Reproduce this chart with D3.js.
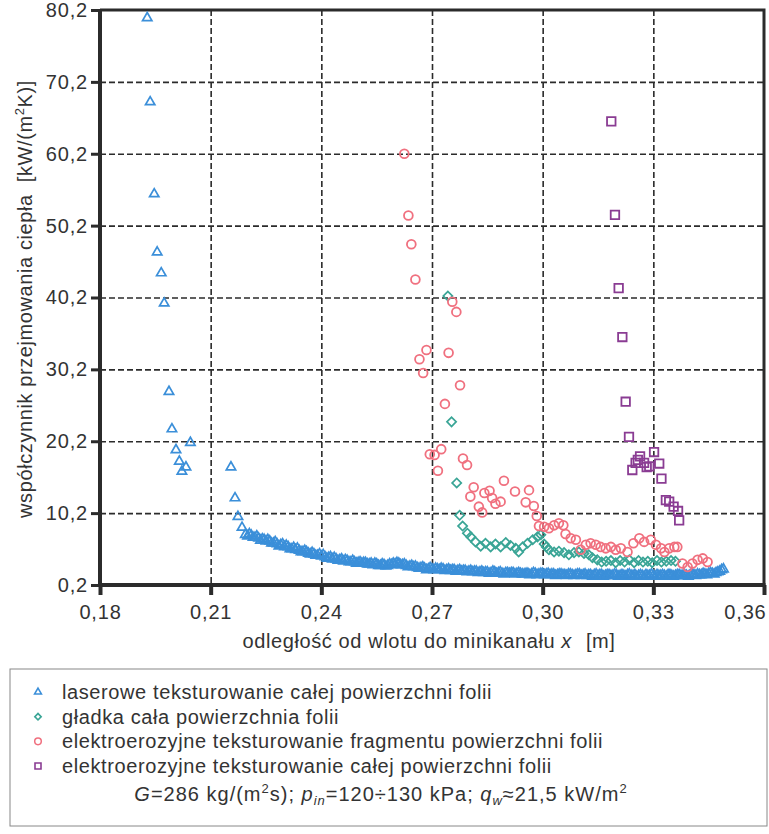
<!DOCTYPE html>
<html>
<head>
<meta charset="utf-8">
<script src="https://cdn.jsdelivr.net/npm/d3@7"></script>
<style>
  body { margin: 0; background: #fff; }
  svg { font-family: "Liberation Sans", Arial, sans-serif; }
  .grid line { stroke: #2b2b2b; stroke-width: 1.6; stroke-dasharray: 6 3; }
  .axis text { font-size: 20px; fill: #333; letter-spacing: 0.8px; }
  .axis line { stroke: #2b2b2b; }
  .lbl { font-size: 20px; fill: #333; letter-spacing: 0.6px; }
</style>
</head>
<body>
<svg id="chart" width="769" height="834"></svg>
<script>
const xTicks = [0.18, 0.21, 0.24, 0.27, 0.30, 0.33, 0.36];
const yTicks = [0.2, 10.2, 20.2, 30.2, 40.2, 50.2, 60.2, 70.2, 80.2];

const seriesNames = [
  "laserowe teksturowanie całej powierzchni folii",
  "gładka cała powierzchnia folii",
  "elektroerozyjne teksturowanie fragmentu powierzchni folii",
  "elektroerozyjne teksturowanie całej powierzchni folii"
];

// [x, y]
const laserPoints = [
  [0.1928, 79.1], [0.1936, 67.4], [0.1947, 54.6], [0.1955, 46.5], [0.1966, 43.6],
  [0.1974, 39.4], [0.1987, 27.1], [0.1995, 21.9], [0.2006, 19.0], [0.2015, 17.4],
  [0.2022, 16.0], [0.2033, 16.6], [0.2045, 20.0], [0.2155, 16.6], [0.2166, 12.3],
  [0.2174, 9.7], [0.2185, 8.2], [0.2194, 7.2],
  [0.220, 7.0], [0.221, 7.1], [0.222, 6.8], [0.223, 6.7], [0.224, 6.6], [0.225, 6.3],
  [0.226, 6.3], [0.227, 6.0], [0.228, 5.9], [0.229, 5.8], [0.230, 5.5], [0.231, 5.5],
  [0.232, 5.2], [0.233, 5.1], [0.234, 5.0], [0.235, 4.8], [0.236, 4.8], [0.237, 4.5],
  [0.238, 4.5], [0.239, 4.3], [0.240, 4.2], [0.241, 4.1], [0.242, 4.0], [0.243, 3.8],
  [0.244, 3.8], [0.245, 3.7], [0.246, 3.5], [0.247, 3.6], [0.248, 3.4], [0.249, 3.4],
  [0.250, 3.3], [0.251, 3.2], [0.252, 3.3], [0.253, 3.1], [0.254, 3.0], [0.255, 3.1],
  [0.256, 2.9], [0.257, 3.0], [0.258, 2.9], [0.259, 3.0], [0.260, 3.1], [0.261, 3.2],
  [0.262, 3.0], [0.263, 2.9], [0.264, 2.8], [0.265, 2.7], [0.266, 2.6], [0.267, 2.6],
  [0.268, 2.5], [0.269, 2.4], [0.270, 2.4], [0.271, 2.5], [0.272, 2.3], [0.273, 2.4],
  [0.274, 2.3], [0.275, 2.2], [0.276, 2.3], [0.277, 2.2], [0.278, 2.1], [0.279, 2.2],
  [0.280, 2.1], [0.281, 2.0], [0.282, 2.1], [0.283, 2.0], [0.284, 1.9], [0.285, 2.0],
  [0.286, 1.9], [0.287, 2.0], [0.288, 1.9], [0.289, 1.8], [0.290, 1.9], [0.291, 1.8],
  [0.292, 1.9], [0.293, 1.8], [0.294, 1.8], [0.295, 1.7], [0.296, 1.8], [0.297, 1.7],
  [0.298, 1.8], [0.299, 1.7], [0.300, 1.8], [0.301, 1.7], [0.302, 1.6], [0.303, 1.7],
  [0.304, 1.6], [0.305, 1.7], [0.306, 1.6], [0.307, 1.7], [0.308, 1.6], [0.309, 1.6],
  [0.310, 1.7], [0.311, 1.6], [0.312, 1.5], [0.313, 1.6], [0.314, 1.6], [0.315, 1.5],
  [0.316, 1.6], [0.317, 1.5], [0.318, 1.6], [0.319, 1.5], [0.320, 1.6], [0.321, 1.5],
  [0.322, 1.5], [0.323, 1.6], [0.324, 1.5], [0.325, 1.6], [0.326, 1.5], [0.327, 1.5],
  [0.328, 1.6], [0.329, 1.5], [0.330, 1.5], [0.331, 1.6], [0.332, 1.5], [0.333, 1.5],
  [0.334, 1.6], [0.335, 1.5], [0.336, 1.5], [0.337, 1.6], [0.338, 1.5], [0.339, 1.5],
  [0.340, 1.6], [0.341, 1.6], [0.342, 1.7], [0.343, 1.6], [0.344, 1.7], [0.345, 1.8],
  [0.346, 1.8], [0.347, 1.9], [0.348, 2.1], [0.349, 2.4],
  [0.2205, 7.3], [0.2215, 6.8], [0.2225, 7.0], [0.2235, 6.4], [0.2245, 6.5], [0.2255, 6.5],
  [0.2265, 6.0], [0.2275, 6.2], [0.2285, 5.6], [0.2295, 5.9], [0.2305, 5.7], [0.2315, 5.2],
  [0.2325, 5.4], [0.2335, 5.3], [0.2345, 4.8], [0.2355, 5.0], [0.2365, 4.6], [0.2375, 4.7],
  [0.2385, 4.3], [0.2395, 4.5], [0.2405, 4.4], [0.2415, 3.9], [0.2425, 4.1], [0.2435, 4.0],
  [0.2445, 3.6], [0.2455, 3.8], [0.2465, 3.7], [0.2475, 3.4], [0.2485, 3.6], [0.2495, 3.2],
  [0.2505, 3.4], [0.2515, 3.3], [0.2525, 3.1], [0.2535, 3.2], [0.2545, 3.2], [0.2555, 2.9],
  [0.2565, 3.1], [0.2575, 2.8], [0.2585, 3.1], [0.2595, 3.2], [0.2605, 3.3], [0.2615, 3.0],
  [0.2625, 3.1], [0.2635, 2.7], [0.2645, 2.9], [0.2655, 2.8], [0.2665, 2.5], [0.2675, 2.7],
  [0.2685, 2.3], [0.2695, 2.6], [0.2705, 2.3], [0.2715, 2.4], [0.2725, 2.5], [0.2735, 2.2],
  [0.2745, 2.4], [0.2755, 2.3], [0.2765, 2.1], [0.2775, 2.3], [0.2785, 2.2], [0.2795, 2.0],
  [0.2805, 2.2], [0.2815, 2.1], [0.2825, 1.9], [0.2835, 2.1], [0.2845, 2.0], [0.2855, 1.8],
  [0.2865, 2.1], [0.2875, 1.8], [0.2885, 2.0], [0.2895, 1.7], [0.2905, 1.9], [0.2915, 1.9],
  [0.2925, 1.7], [0.2935, 1.9], [0.2945, 1.7], [0.2955, 1.8], [0.2965, 1.6], [0.2975, 1.9],
  [0.2985, 1.6], [0.2995, 1.8], [0.3005, 1.6], [0.3015, 1.8], [0.3025, 1.7], [0.3035, 1.5],
  [0.3045, 1.7], [0.3055, 1.6], [0.3065, 1.5], [0.3075, 1.7], [0.3085, 1.5], [0.3095, 1.7],
  [0.3105, 1.5], [0.3115, 1.7], [0.3125, 1.6], [0.3135, 1.4], [0.3145, 1.7], [0.3155, 1.6],
  [0.3165, 1.4], [0.3175, 1.6], [0.3185, 1.5], [0.3195, 1.7], [0.3205, 1.4], [0.3215, 1.6],
  [0.3225, 1.4], [0.3235, 1.7], [0.3245, 1.5], [0.3255, 1.4], [0.3265, 1.6], [0.3275, 1.4],
  [0.3285, 1.5], [0.3295, 1.7], [0.3305, 1.4], [0.3315, 1.5], [0.3325, 1.6], [0.3335, 1.4],
  [0.3345, 1.6], [0.3355, 1.4], [0.3365, 1.6], [0.3375, 1.5], [0.3385, 1.6], [0.3395, 1.4],
  [0.3405, 1.7], [0.3415, 1.5], [0.3425, 1.6], [0.3435, 1.8], [0.3445, 1.6], [0.3455, 1.9],
  [0.3465, 1.7], [0.3475, 2.0], [0.3485, 2.3]
];

const smoothPoints = [
  [0.2743, 40.4], [0.2753, 22.9], [0.2767, 14.4], [0.2775, 9.9], [0.2783, 8.4],
  [0.2796, 7.4], [0.2805, 6.9], [0.2818, 6.2], [0.2832, 5.6], [0.2845, 6.0],
  [0.2859, 5.5], [0.2872, 5.9], [0.2886, 5.5], [0.2900, 6.1], [0.2913, 5.7],
  [0.2927, 5.3], [0.2935, 4.8], [0.2946, 5.5], [0.2959, 6.0], [0.2973, 6.5],
  [0.2986, 6.9], [0.2995, 7.2], [0.3004, 5.9], [0.3010, 5.5], [0.3017, 5.1],
  [0.3031, 4.8], [0.3044, 4.9], [0.3058, 4.7], [0.3071, 4.4], [0.3085, 4.7],
  [0.3098, 4.8], [0.3112, 4.6], [0.3125, 4.4], [0.3135, 4.0], [0.3148, 3.7],
  [0.3160, 3.4], [0.3172, 3.5], [0.3185, 3.6], [0.3198, 3.3], [0.3210, 3.6],
  [0.3222, 3.4], [0.3235, 3.7], [0.3248, 3.3], [0.3260, 3.6], [0.3272, 3.4],
  [0.3285, 3.5], [0.3297, 3.3], [0.3310, 3.6], [0.3322, 3.4], [0.3335, 3.5],
  [0.3348, 3.6], [0.3360, 3.5]
];

const fragmentPoints = [
  [0.2625, 60.2], [0.2636, 51.6], [0.2644, 47.6], [0.2655, 42.7], [0.2755, 39.6],
  [0.2766, 38.2], [0.2685, 32.9], [0.2666, 31.6], [0.2676, 29.7], [0.2745, 32.5],
  [0.2776, 28.0], [0.2735, 25.4], [0.2694, 18.4], [0.2707, 18.3], [0.2725, 19.1],
  [0.2716, 16.1], [0.2784, 17.8], [0.2795, 16.9], [0.2813, 13.8], [0.2804, 12.5],
  [0.2827, 11.1], [0.2836, 10.3], [0.2842, 13.0], [0.2856, 13.3], [0.2863, 12.3],
  [0.2872, 11.5], [0.2886, 11.8], [0.2895, 14.7], [0.2925, 13.2], [0.2954, 11.7],
  [0.2963, 13.4], [0.2976, 11.2], [0.2984, 9.8], [0.2990, 8.4], [0.3004, 8.3],
  [0.3017, 8.1], [0.3031, 8.5], [0.3044, 8.8], [0.3056, 8.5], [0.3062, 7.3],
  [0.3076, 6.7], [0.3090, 6.5], [0.3103, 5.1], [0.3117, 5.8], [0.3130, 6.0],
  [0.3144, 5.8], [0.3157, 5.5], [0.3171, 5.3], [0.3185, 5.5], [0.3198, 5.1],
  [0.3212, 5.3], [0.3230, 4.8], [0.3246, 6.0], [0.3262, 6.7], [0.3275, 6.2],
  [0.3293, 6.5], [0.3307, 5.8], [0.3321, 5.3], [0.3330, 4.8], [0.3343, 5.3],
  [0.3357, 5.5], [0.3365, 5.5], [0.3379, 3.2], [0.3393, 2.7], [0.3406, 3.2],
  [0.3420, 3.7], [0.3434, 3.9], [0.3447, 3.4]
];

const wholePoints = [
  [0.3186, 64.7], [0.3196, 51.7], [0.3206, 41.5], [0.3216, 34.7], [0.3225, 25.7],
  [0.3234, 20.8], [0.3243, 16.2], [0.3252, 17.2], [0.3258, 17.6], [0.3264, 18.1],
  [0.3275, 17.2], [0.3282, 16.6], [0.3289, 16.7], [0.3302, 18.7], [0.3316, 17.1],
  [0.3322, 15.0], [0.3334, 12.0], [0.3343, 11.8], [0.3355, 11.1], [0.3367, 10.5],
  [0.3370, 9.2]
];

const colors = ["#3b8fd9", "#3aa596", "#f0707f", "#8a3c93"];

const svg = d3.select("#chart");
const x = d3.scaleLinear().domain([0.18, 0.36]).range([100, 764]);
const y = d3.scaleLinear().domain([0.2, 80.2]).range([585, 10]);
const comma = (v, n) => v.toFixed(n).replace(".", ",");

// grid
svg.append("g")
  .attr("class", "grid")
  .attr("transform", "translate(0,10)")
  .call(d3.axisBottom(x).tickValues(xTicks.slice(1, -1)).tickSize(575).tickFormat(""))
  .call(g => g.select(".domain").remove());

svg.append("g")
  .attr("class", "grid")
  .attr("transform", "translate(100,0)")
  .call(d3.axisRight(y).tickValues(yTicks.slice(1, -1)).tickSize(664).tickFormat(""))
  .call(g => g.select(".domain").remove());

// axes
svg.append("g")
  .attr("class", "axis")
  .attr("transform", "translate(100,0)")
  .call(d3.axisLeft(y).tickValues(yTicks).tickSize(9).tickPadding(3).tickFormat(d => comma(d, 1)))
  .call(g => g.select(".domain").remove())
  .call(g => g.selectAll("line").attr("stroke-width", 3));

svg.append("g")
  .attr("class", "axis")
  .attr("transform", "translate(0,585)")
  .call(d3.axisBottom(x).tickValues(xTicks).tickSize(10).tickPadding(10).tickFormat(d => comma(d, 2)))
  .call(g => g.select(".domain").remove())
  .call(g => g.selectAll("line").attr("stroke-width", 4))
  .call(g => g.selectAll("text").filter(d => d === 0.36).attr("text-anchor", "end").attr("x", 2));

// frame
svg.append("path")
  .attr("d", `M${x(0.18)},${y(80.2)}H${x(0.36)}V${y(0.2)}`)
  .attr("fill", "none").attr("stroke", "#2b2b2b").attr("stroke-width", 3);
svg.append("path")
  .attr("d", `M${x(0.18)},${y(80.2) - 1}V${y(0.2)}H${x(0.36) + 1.5}`)
  .attr("fill", "none").attr("stroke", "#2b2b2b").attr("stroke-width", 4);

// markers
const tri = d3.symbol().type(d3.symbolTriangle).size(38);
const sq = s => d3.symbol().type(d3.symbolSquare).size(s);

const plot = svg.append("g");

plot.append("g").selectAll("path").data(laserPoints).join("path")
  .attr("d", tri())
  .attr("transform", d => `translate(${x(d[0])},${y(d[1])})`)
  .attr("fill", "none").attr("stroke", colors[0]).attr("stroke-width", 1.7);

plot.append("g").selectAll("path").data(smoothPoints).join("path")
  .attr("d", sq(42)())
  .attr("transform", d => `translate(${x(d[0])},${y(d[1])}) rotate(45)`)
  .attr("fill", "none").attr("stroke", colors[1]).attr("stroke-width", 1.7);

plot.append("g").selectAll("circle").data(fragmentPoints).join("circle")
  .attr("cx", d => x(d[0])).attr("cy", d => y(d[1])).attr("r", 4.4)
  .attr("fill", "none").attr("stroke", colors[2]).attr("stroke-width", 1.8);

plot.append("g").selectAll("path").data(wholePoints).join("path")
  .attr("d", sq(72)())
  .attr("transform", d => `translate(${x(d[0])},${y(d[1])})`)
  .attr("fill", "none").attr("stroke", colors[3]).attr("stroke-width", 1.8);

// axis titles
const xt = svg.append("text")
  .attr("class", "lbl")
  .attr("x", 429).attr("y", 648).attr("text-anchor", "middle");
xt.append("tspan").text("odległość od wlotu do minikanału ");
xt.append("tspan").attr("font-style", "italic").text("x");
xt.append("tspan").attr("dx", 14).text("[m]");

const yt = svg.append("text")
  .attr("class", "lbl")
  .attr("transform", "translate(32,299) rotate(-90)")
  .attr("text-anchor", "middle");
yt.append("tspan").text("współczynnik przejmowania ciepła");
yt.append("tspan").attr("dx", 12).text("[kW/(m");
yt.append("tspan").attr("font-size", 13).attr("dy", -8).text("2");
yt.append("tspan").attr("dy", 8).text("K)]");

// legend
svg.append("rect")
  .attr("x", 10).attr("y", 669).attr("width", 757).attr("height", 157)
  .attr("fill", "none").attr("stroke", "#888").attr("stroke-width", 1);

const legendY = d3.scalePoint().domain(d3.range(4)).range([692, 766]);
const lg = svg.append("g");
const legendSymbols = [
  d3.symbol().type(d3.symbolTriangle).size(20)(),
  d3.symbol().type(d3.symbolSquare).size(20)(),
  null,
  d3.symbol().type(d3.symbolSquare).size(36)()
];
seriesNames.forEach((name, i) => {
  const cy = legendY(i);
  if (i === 2) {
    lg.append("circle").attr("cx", 38).attr("cy", cy).attr("r", 3.3)
      .attr("fill", "none").attr("stroke", colors[i]).attr("stroke-width", 1.5);
  } else {
    lg.append("path").attr("d", legendSymbols[i])
      .attr("transform", `translate(38,${cy})` + (i === 1 ? " rotate(45)" : ""))
      .attr("fill", "none").attr("stroke", colors[i]).attr("stroke-width", 1.6);
  }
  lg.append("text").attr("class", "lbl").attr("x", 62).attr("y", cy).attr("dy", "0.35em").text(name);
});

const ft = svg.append("text")
  .attr("class", "lbl")
  .attr("x", 381).attr("y", 801).attr("text-anchor", "middle")
  .style("letter-spacing", "1px");
ft.append("tspan").attr("font-style", "italic").text("G");
ft.append("tspan").text("=286 kg/(m");
ft.append("tspan").attr("font-size", 13).attr("dy", -8).text("2");
ft.append("tspan").attr("dy", 8).text("s); ");
ft.append("tspan").attr("font-style", "italic").text("p");
ft.append("tspan").attr("font-size", 13).attr("dy", 4).attr("font-style", "italic").text("in");
ft.append("tspan").attr("dy", -4).text("=120÷130 kPa; ");
ft.append("tspan").attr("font-style", "italic").text("q");
ft.append("tspan").attr("font-size", 13).attr("dy", 4).attr("font-style", "italic").text("w");
ft.append("tspan").attr("dy", -4).text("≈21,5 kW/m");
ft.append("tspan").attr("font-size", 13).attr("dy", -8).text("2");
</script>
</body>
</html>
